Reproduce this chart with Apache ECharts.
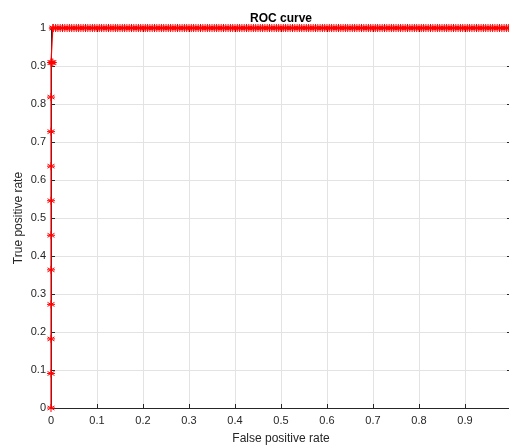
<!DOCTYPE html>
<html>
<head>
<meta charset="utf-8">
<script src="https://cdn.jsdelivr.net/npm/echarts@6/dist/echarts.min.js"></script>
<style>
    html, body {margin: 0; padding: 0; background: #fff;}
    #chart {width: 509px; height: 447px;}
</style>
</head>
<body>
<div id="chart"></div>
<script>
    // ROC points: climb up the y axis, short step, then flat at 1
    const fprStart = [0, 0, 0, 0, 0, 0, 0, 0, 0, 0, 0, 0.002, 0.004, 0.004];
    const tprStart = [0, 0.0909, 0.1818, 0.2727, 0.3636, 0.4545, 0.5455, 0.6364, 0.7273, 0.8182, 0.9091, 0.9091, 0.9091, 1];
    // false positive rates on the top plateau (tpr = 1)
    const fprTop = [
        0.005, 0.01, 0.015, 0.02, 0.025, 0.03, 0.035, 0.04, 0.045, 0.05, 0.055, 0.06, 0.065, 0.07, 0.075, 0.08, 0.085, 0.09, 0.095, 0.1,
        0.105, 0.11, 0.115, 0.12, 0.125, 0.13, 0.135, 0.14, 0.145, 0.15, 0.155, 0.16, 0.165, 0.17, 0.175, 0.18, 0.185, 0.19, 0.195, 0.2,
        0.205, 0.21, 0.215, 0.22, 0.225, 0.23, 0.235, 0.24, 0.245, 0.25, 0.255, 0.26, 0.265, 0.27, 0.275, 0.28, 0.285, 0.29, 0.295, 0.3,
        0.305, 0.31, 0.315, 0.32, 0.325, 0.33, 0.335, 0.34, 0.345, 0.35, 0.355, 0.36, 0.365, 0.37, 0.375, 0.38, 0.385, 0.39, 0.395, 0.4,
        0.405, 0.41, 0.415, 0.42, 0.425, 0.43, 0.435, 0.44, 0.445, 0.45, 0.455, 0.46, 0.465, 0.47, 0.475, 0.48, 0.485, 0.49, 0.495, 0.5,
        0.505, 0.51, 0.515, 0.52, 0.525, 0.53, 0.535, 0.54, 0.545, 0.55, 0.555, 0.56, 0.565, 0.57, 0.575, 0.58, 0.585, 0.59, 0.595, 0.6,
        0.605, 0.61, 0.615, 0.62, 0.625, 0.63, 0.635, 0.64, 0.645, 0.65, 0.655, 0.66, 0.665, 0.67, 0.675, 0.68, 0.685, 0.69, 0.695, 0.7,
        0.705, 0.71, 0.715, 0.72, 0.725, 0.73, 0.735, 0.74, 0.745, 0.75, 0.755, 0.76, 0.765, 0.77, 0.775, 0.78, 0.785, 0.79, 0.795, 0.8,
        0.805, 0.81, 0.815, 0.82, 0.825, 0.83, 0.835, 0.84, 0.845, 0.85, 0.855, 0.86, 0.865, 0.87, 0.875, 0.88, 0.885, 0.89, 0.895, 0.9,
        0.905, 0.91, 0.915, 0.92, 0.925, 0.93, 0.935, 0.94, 0.945, 0.95, 0.955, 0.96, 0.965, 0.97, 0.975, 0.98, 0.985, 0.99, 0.995, 1
    ];
    const tprTop = fprTop.map(() => 1);

    const xTicks = ['0', '0.1', '0.2', '0.3', '0.4', '0.5', '0.6', '0.7', '0.8', '0.9', ''];
    const yTicks = ['0', '0.1', '0.2', '0.3', '0.4', '0.5', '0.6', '0.7', '0.8', '0.9', '1'];

    const points = fprStart.concat(fprTop).map((x, i) => [x, tprStart.concat(tprTop)[i]]);

    const asterisk = 'path://M0,-5L0,5M-4.33,-2.5L4.33,2.5M-4.33,2.5L4.33,-2.5M-5,0L5,0';
    const font = 'Liberation Sans, Arial, sans-serif';
    const ink = '#262626';

    const chart = echarts.init(document.getElementById('chart'), null, {renderer: 'canvas'});

    const baseAxis = {
        min: 0,
        max: 1,
        interval: 0.1,
        axisLine: {show: true, onZero: false, lineStyle: {color: ink, width: 1}},
        axisTick: {show: true, inside: true, length: 4, lineStyle: {color: ink}},
        splitLine: {show: false}
    };

    chart.setOption({
        animation: false,
        backgroundColor: '#fff',
        title: {
            text: 'ROC curve',
            left: 276,
            top: 8,
            textAlign: 'center',
            textStyle: {fontFamily: font, fontSize: 12, fontWeight: 'bold', color: '#000'}
        },
        grid: {left: 51, top: 28, width: 460, height: 380, containLabel: false, outerBoundsMode: 'none'},
        xAxis: [
            Object.assign({}, baseAxis, {
                type: 'value',
                position: 'bottom',
                name: 'False positive rate',
                nameLocation: 'middle',
                nameGap: 25,
                nameTextStyle: {fontFamily: font, fontSize: 12, color: ink},
                axisLabel: {
                    fontFamily: font, fontSize: 11, color: ink, margin: 7,
                    formatter: v => xTicks[Math.round(v * 10)]
                },
                splitLine: {show: true, lineStyle: {color: '#e3e3e3', width: 1}}
            }),
            Object.assign({}, baseAxis, {type: 'value', position: 'top', axisLabel: {show: false}})
        ],
        yAxis: [
            Object.assign({}, baseAxis, {
                type: 'value',
                position: 'left',
                name: 'True positive rate',
                nameLocation: 'middle',
                nameGap: 26,
                nameMoveOverlap: false,
                nameTextStyle: {fontFamily: font, fontSize: 12, color: ink},
                axisLabel: {
                    fontFamily: font, fontSize: 11, color: ink, margin: 5,
                    formatter: v => yTicks[Math.round(v * 10)]
                },
                splitLine: {show: true, lineStyle: {color: '#e3e3e3', width: 1}}
            }),
            Object.assign({}, baseAxis, {type: 'value', position: 'right', axisLabel: {show: false}})
        ],
        series: [{
            type: 'line',
            data: points,
            xAxisIndex: 0,
            yAxisIndex: 0,
            showAllSymbol: true,
            symbol: asterisk,
            symbolSize: 8,
            lineStyle: {color: '#ff0000', width: 1.2},
            itemStyle: {color: 'none', borderColor: '#ff0000', borderWidth: 1},
            clip: false,
            z: 5
        }]
    });
</script>
</body>
</html>
